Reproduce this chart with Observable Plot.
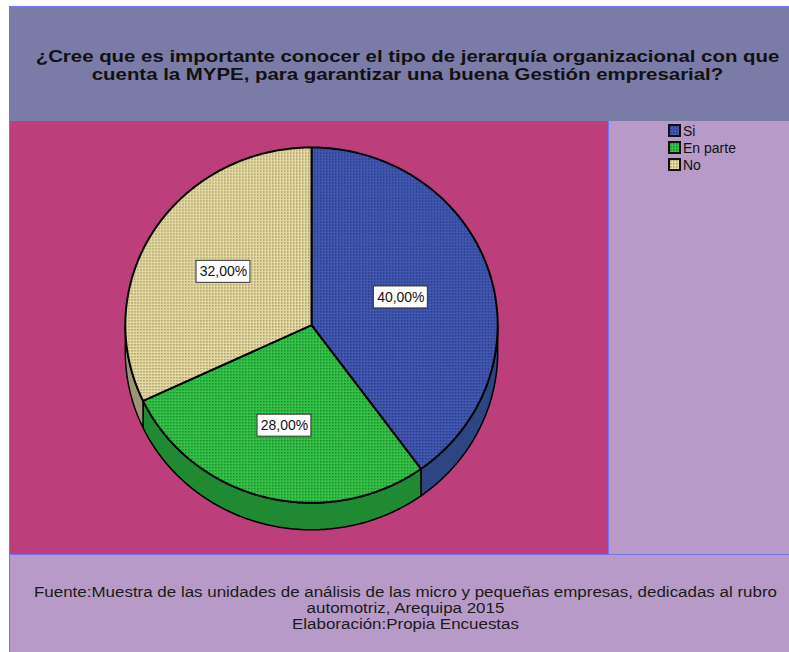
<!DOCTYPE html>
<html>
<head>
<meta charset="utf-8">
<script src="https://cdn.jsdelivr.net/npm/d3@7"></script>
<script src="https://cdn.jsdelivr.net/npm/@observablehq/plot@0.6"></script>
<style>
  html, body { margin: 0; padding: 0; background: #ffffff; }
  body { width: 789px; height: 652px; position: relative; overflow: hidden; font-family: "Liberation Sans", Arial, sans-serif; }
  .panel { position: absolute; box-sizing: border-box; }
  #title { left: 9px; top: 6px; width: 780px; height: 116px; background: #7b7ba8; border-left: 1px solid #7373ff; border-top: 1px solid #7373ff; border-bottom: 1px solid #7373ff; }
  #title div { position: absolute; left: 16px; right: 0; top: 41px; text-align: center; font-weight: bold; font-size: 17px; line-height: 18px; color: #111; white-space: nowrap; transform: scaleX(1.2); transform-origin: 50% 50%; }
  #plotarea { left: 9px; top: 121px; width: 600px; height: 434px; background: #bc3f7b; border-left: 1px solid #7373ff; border-right: 1px solid #7373ff; }
  #legendpanel { left: 609px; top: 121px; width: 180px; height: 434px; background: #b89ac8; }
  #footer { left: 9px; top: 554px; width: 780px; height: 98px; background: #b89ac8; border-left: 1px solid #7373ff; border-top: 1px solid #7373ff; }
  #footer div { position: absolute; left: 12px; right: 0; top: 29px; text-align: center; font-size: 14px; line-height: 16px; color: #1a1a1a; white-space: nowrap; transform: scaleX(1.21); transform-origin: 50% 50%; }
  #legend { position: absolute; left: 59px; top: 1px; font-size: 14px; color: #111; }
  .lrow { height: 17px; display: flex; align-items: center; }
  .sw { width: 13px; height: 13px; background: #111; box-sizing: border-box; border: 2px solid #111; margin-right: 2px; }
  .sw svg { display: block; }
  #chart { position: absolute; left: 1px; top: 1px; }
</style>
</head>
<body>
<div class="panel" id="title"><div>¿Cree que es importante conocer el tipo de jerarquía organizacional con que<br>cuenta la MYPE, para garantizar una buena Gestión empresarial?</div></div>
<div class="panel" id="plotarea"><div id="chart"></div></div>
<div class="panel" id="legendpanel"><div id="legend"></div></div>
<div class="panel" id="footer"><div>Fuente:Muestra de las unidades de análisis de las micro y pequeñas empresas, dedicadas al rubro<br>automotriz, Arequipa 2015<br>Elaboración:Propia Encuestas</div></div>
<script>
// ---- data ----
const categories = ["Si", "En parte", "No"];
const percents = [40, 28, 32];
const topColors = ["#4259b4", "#33c447", "#e6dba2"];
const dotColors = ["#16225a", "#105a1c", "#6f653c"];
const sideColors = ["#2e4584", "#208a33", "#9c9474"];

// ---- geometry ----
const W = 598, H = 432;
const cx = 300.5, cy = 203, rx = 186.5, ry = 178, depth = 27;

const pie = d3.pie().sort(null).value(d => d)(percents);

function arcPts(a0, a1, dy = 0) {
  const n = Math.max(2, Math.ceil((a1 - a0) / 0.01));
  const pts = [];
  for (let i = 0; i <= n; i++) {
    const a = a0 + (a1 - a0) * i / n;
    pts.push([cx + rx * Math.sin(a), cy - ry * Math.cos(a) + dy]);
  }
  return pts;
}

const tops = [], sides = [], labels = [];
pie.forEach((p, i) => {
  const t = [[cx, cy], ...arcPts(p.startAngle, p.endAngle)];
  tops.push(t.map(([x, y]) => ({x, y, id: i})));
  const s0 = Math.max(p.startAngle, Math.PI / 2), s1 = Math.min(p.endAngle, 3 * Math.PI / 2);
  if (s1 > s0) {
    const upper = arcPts(s0, s1);
    const lower = arcPts(s0, s1, depth).reverse();
    sides.push({i, pts: [...upper, ...lower].map(([x, y]) => ({x, y}))});
  }
  const th = p.endAngle - p.startAngle, mid = (p.startAngle + p.endAngle) / 2;
  const d = (2 / 3) * Math.sin(th / 2) / (th / 2);
  const lx = cx + rx * d * Math.sin(mid), ly = cy - ry * d * Math.cos(mid);
  labels.push({x: lx, y: ly, text: percents[i].toFixed(2).replace(".", ",") + "%"});
});

const marks = [];
sides.forEach(s => {
  marks.push(Plot.line(s.pts, {x: "x", y: "y", fill: sideColors[s.i], stroke: "#000", strokeWidth: 1.5, curve: "linear-closed", strokeLinejoin: "round"}));
});
tops.forEach((t, i) => {
  marks.push(Plot.line(t, {x: "x", y: "y", fill: `url(#pat${i})`, stroke: "#000", strokeWidth: 2, curve: "linear-closed", strokeLinejoin: "round"}));
});
marks.push(Plot.rect(labels, {x1: d => d.x - 27, x2: d => d.x + 27, y1: d => d.y - 11, y2: d => d.y + 11, fill: "#fff", stroke: "#333", strokeWidth: 1}));
marks.push(Plot.text(labels, {x: "x", y: "y", text: "text", fontSize: 14, fill: "#111", fontFamily: "Liberation Sans, Arial, sans-serif"}));

const chart = Plot.plot({
  width: W, height: H,
  margin: 0,
  x: {type: "linear", domain: [0, W], range: [0, W], axis: null},
  y: {type: "linear", domain: [0, H], range: [0, H], axis: null},
  style: {background: "transparent", overflow: "visible"},
  marks
});

function patternDefs(prefix) {
  return topColors.map((c, i) => `
    <pattern id="${prefix}${i}" patternUnits="userSpaceOnUse" width="3" height="3">
      <rect width="3" height="3" fill="${c}"/>
      <rect x="0" y="0" width="1.5" height="1.5" fill="${dotColors[i]}" fill-opacity="0.6"/>
    </pattern>`).join("");
}
const defs = document.createElementNS("http://www.w3.org/2000/svg", "defs");
defs.innerHTML = patternDefs("pat");
chart.insertBefore(defs, chart.firstChild);
document.getElementById("chart").appendChild(chart);

const leg = document.getElementById("legend");
categories.forEach((c, i) => {
  const row = document.createElement("div");
  row.className = "lrow";
  row.innerHTML = `<div class="sw"><svg width="9" height="9"><defs>${patternDefs("lp" + i + "_")}</defs><rect width="9" height="9" fill="url(#lp${i}_${i})"/></svg></div><span>${c}</span>`;
  leg.appendChild(row);
});
</script>
</body>
</html>
